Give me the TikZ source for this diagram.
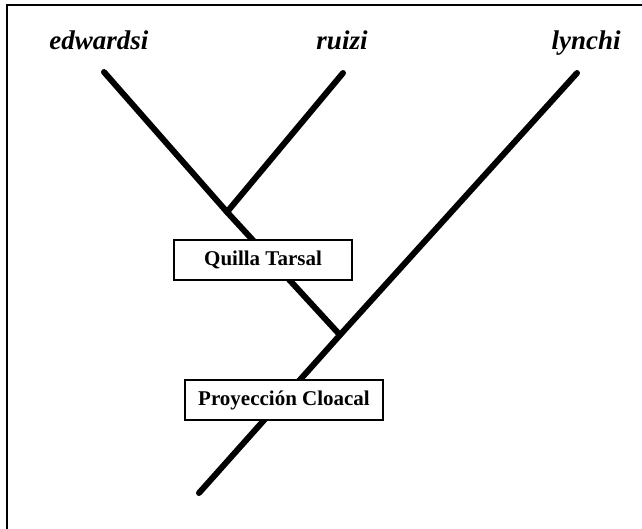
\documentclass[tikz,border=0pt]{standalone}
\usepackage{fontspec}
\setmainfont{Liberation Serif}
\usepackage{tikz}
\usetikzlibrary{positioning}

\begin{document}
\begin{tikzpicture}[x=1pt, y=-1pt,
    branch/.style={line width=6pt, line cap=round},
    taxon/.style={font=\fontsize{27}{30}\selectfont\bfseries\itshape, anchor=base},
    trait/.style={rectangle, draw, line width=1.2pt, fill=white, minimum height=40pt,
        font=\fontsize{21}{24}\selectfont\bfseries}]
    \useasboundingbox (0,0) rectangle (642,528);
    \clip (0,0) rectangle (642,528);
    \draw[line width=2pt] (7,5) rectangle (660,545);

    % terminales
    \node[taxon] (edw) at (99,49) {edwardsi};
    \node[taxon] (rui) at (342,49) {ruizi};
    \node[taxon] (lyn) at (586,49) {lynchi};

    \coordinate (edwtip) at (104,72);
    \coordinate (ruitip) at (343,73);
    \coordinate (lyntip) at (577,73);
    \coordinate (n1) at (227,212);
    \coordinate (n2) at (340,335);
    \coordinate (root) at (199,493);

    \draw[branch] (edwtip) -- (n1) -- (n2);
    \draw[branch] (ruitip) -- (n1);
    \draw[branch] (lyntip) -- (n2) -- (root);

    % caracteres
    \node[trait, minimum width=178pt] (quilla) at (263,260) {Quilla Tarsal};
    \node[trait, minimum width=198pt] (cloaca) at (284,400) {Proyección Cloacal};
\end{tikzpicture}
\end{document}
